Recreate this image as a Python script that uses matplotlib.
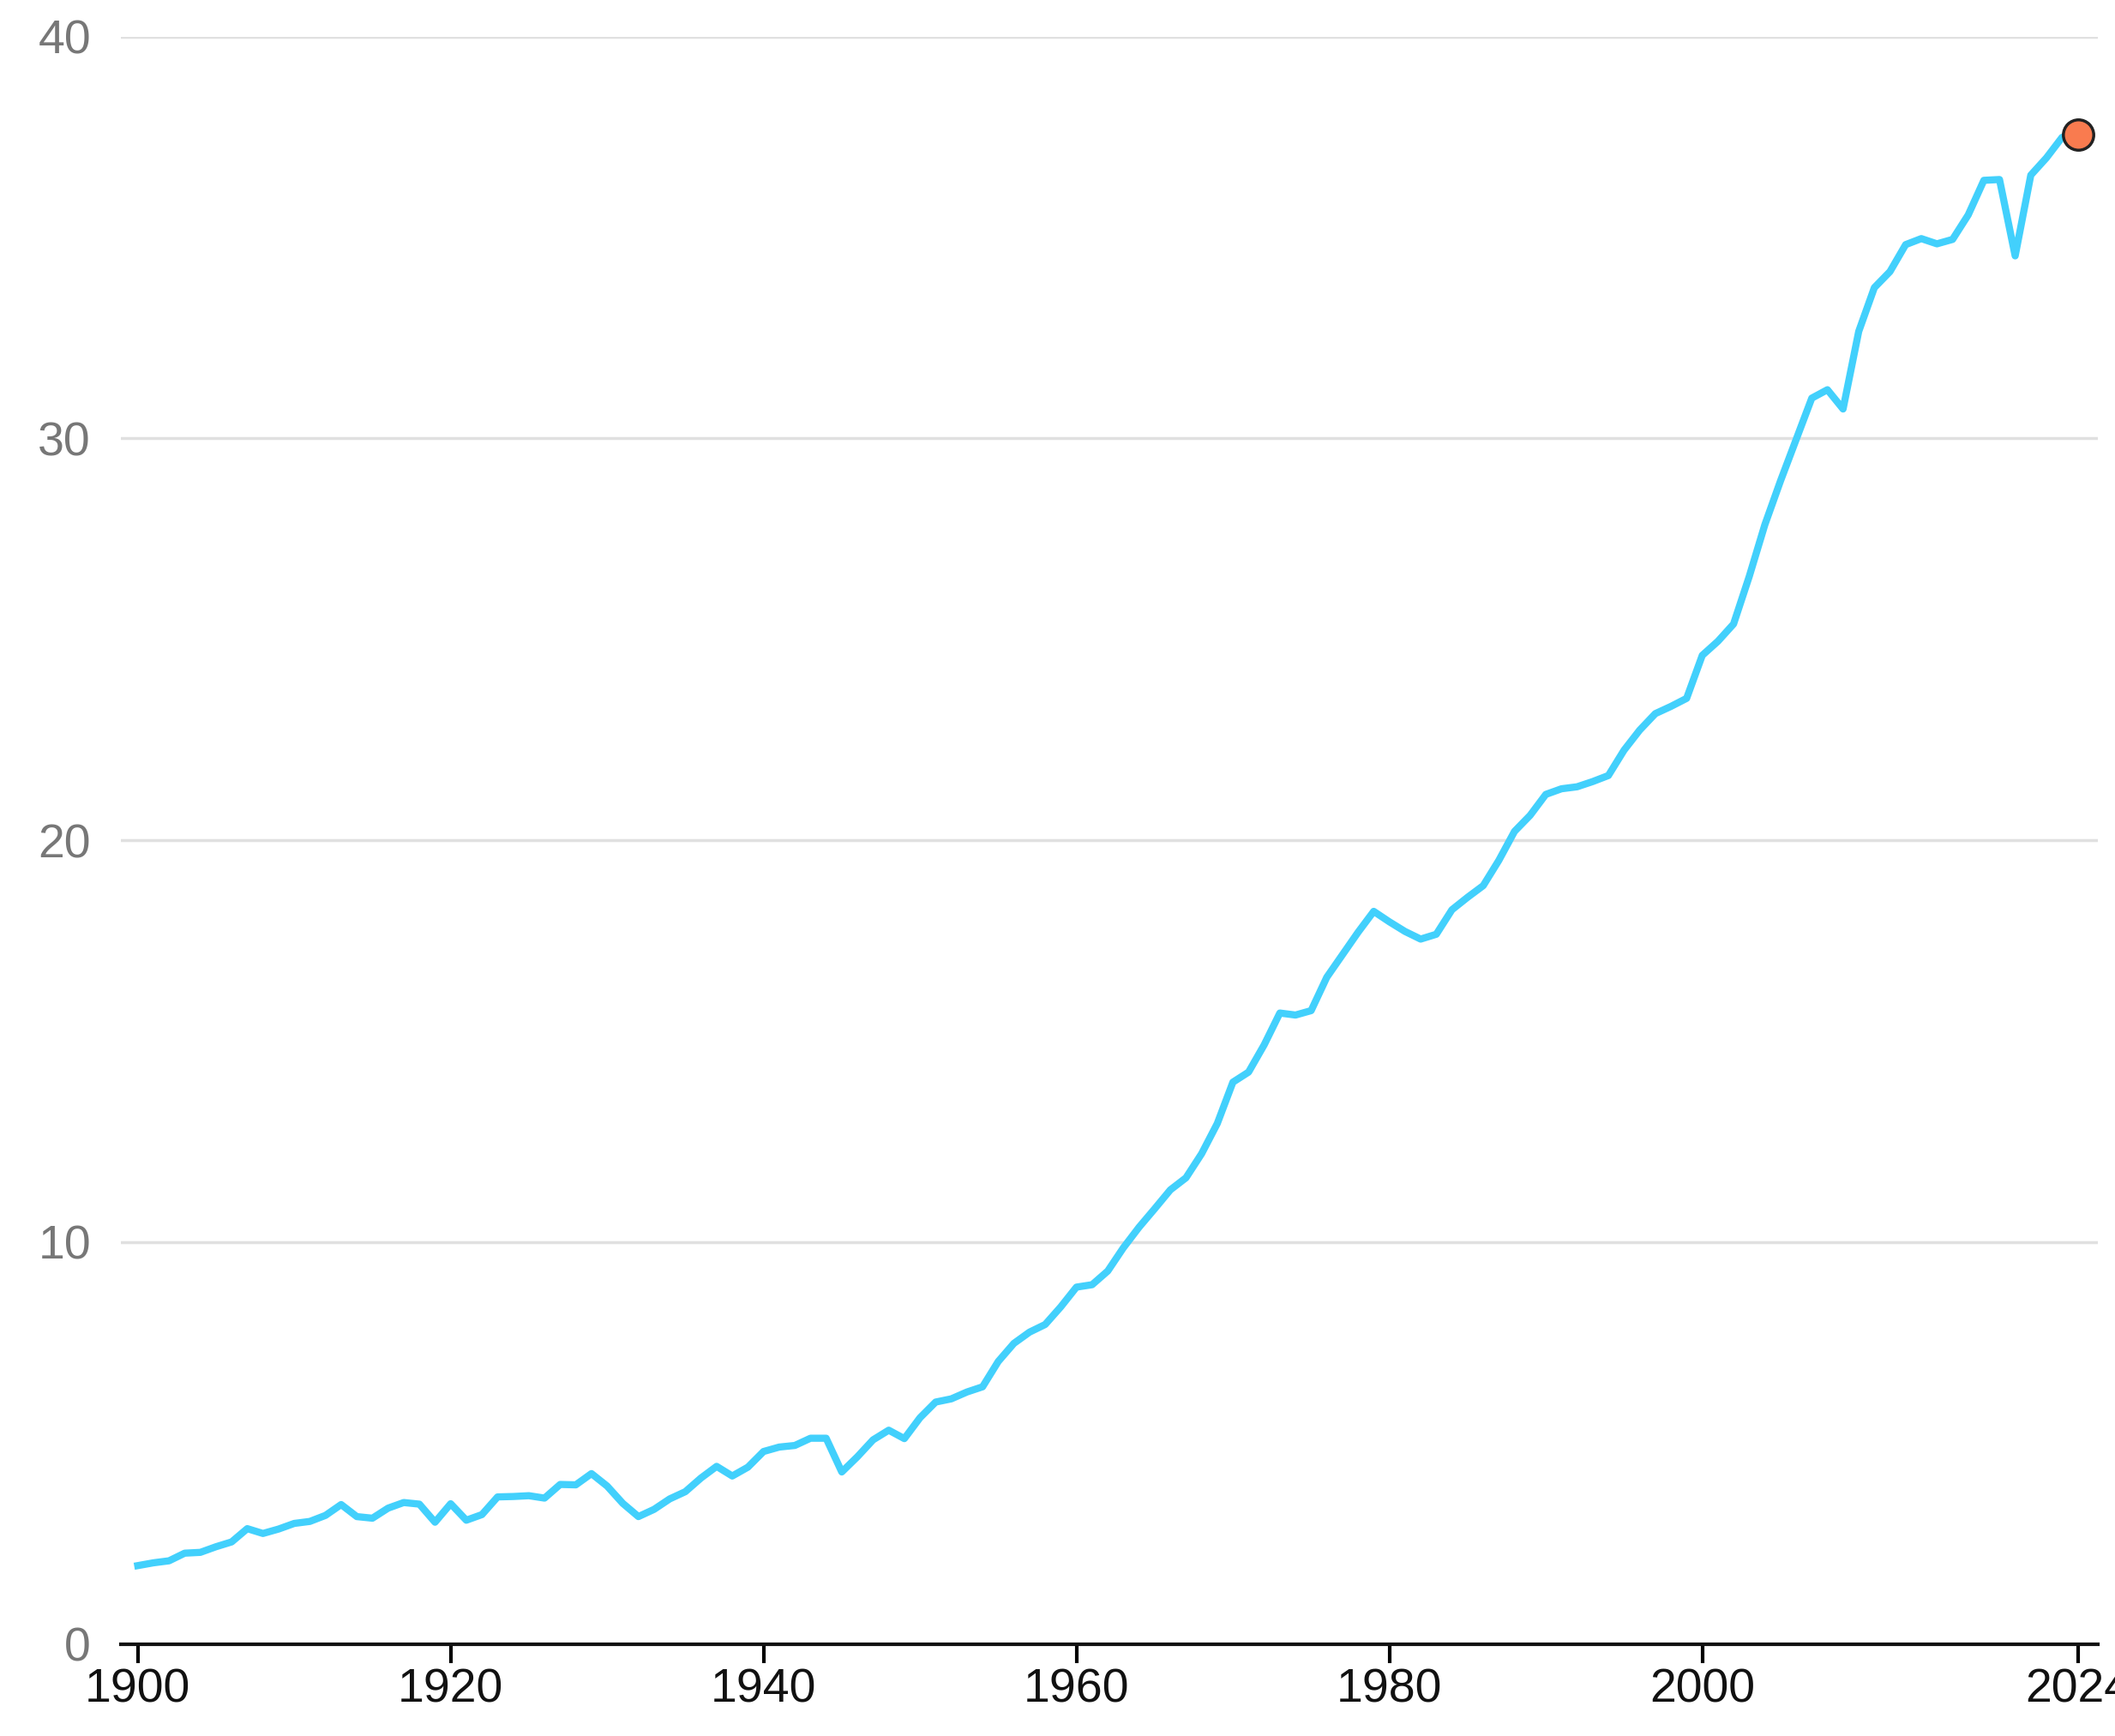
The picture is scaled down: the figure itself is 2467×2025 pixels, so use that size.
import matplotlib.pyplot as plt

plt.rcParams['font.family'] = ['Liberation Sans', 'DejaVu Sans']

years = list(range(1900, 2025))
emissions = [
    1.95, 2.02, 2.07, 2.26, 2.28, 2.42, 2.54, 2.87, 2.75, 2.86,
    3.00, 3.05, 3.20, 3.47, 3.17, 3.13, 3.38, 3.52, 3.48, 3.03,
    3.49, 3.08, 3.22, 3.66, 3.67, 3.69, 3.63, 3.97, 3.96, 4.24,
    3.93, 3.50, 3.17, 3.35, 3.61, 3.79, 4.13, 4.42, 4.18, 4.40,
    4.79, 4.90, 4.94, 5.12, 5.12, 4.28, 4.66, 5.08, 5.32, 5.11,
    5.63, 6.02, 6.10, 6.27, 6.40, 7.03, 7.48, 7.76, 7.95, 8.39,
    8.88, 8.94, 9.28, 9.86, 10.37, 10.83, 11.30, 11.60, 12.20, 12.95,
    13.98, 14.23, 14.91, 15.70, 15.65, 15.76, 16.59, 17.15, 17.71, 18.23,
    17.97, 17.73, 17.54, 17.66, 18.27, 18.58, 18.87, 19.50, 20.22, 20.62,
    21.14, 21.28, 21.33, 21.46, 21.61, 22.24, 22.74, 23.15, 23.33, 23.53,
    24.60, 24.95, 25.38, 26.56, 27.85, 28.94, 29.97, 31.00, 31.21, 30.73,
    32.66, 33.75, 34.15, 34.82, 34.97, 34.84, 34.95, 35.56, 36.42, 36.44,
    34.54, 36.55, 36.98, 37.49, 37.55,
]
xticks = [1900, 1920, 1940, 1960, 1980, 2000, 2024]
yticks = [0, 10, 20, 30, 40]

fig = plt.figure(figsize=(24.67, 20.25), dpi=100)
ax = fig.add_axes([0.057, 0.053, 0.935, 0.926])

ax.plot(years, emissions, color='#42d0fc', lw=6, solid_joinstyle='round', zorder=3)
ax.scatter([years[-1]], [emissions[-1]], s=650, color='#f97b4f',
           edgecolor='#222222', linewidth=2.5, zorder=4, clip_on=False)

ax.set_xlim(1898.9, 2025.3)
ax.set_ylim(0, 40)
ax.set_yticks(yticks)
ax.set_xticks(xticks)
ax.grid(axis='y', color='#e0e0e0', lw=2.5)
ax.set_axisbelow(True)
for s in ['top', 'right', 'left']:
    ax.spines[s].set_visible(False)
ax.spines['bottom'].set_linewidth(3)
ax.spines['bottom'].set_color('#111111')
ax.tick_params(axis='y', length=0, labelsize=40, labelcolor='#777777', pad=25)
ax.tick_params(axis='x', length=16, width=3, labelsize=40, labelcolor='#111111', pad=4)

fig.savefig('out.png', dpi=100, facecolor='white')
